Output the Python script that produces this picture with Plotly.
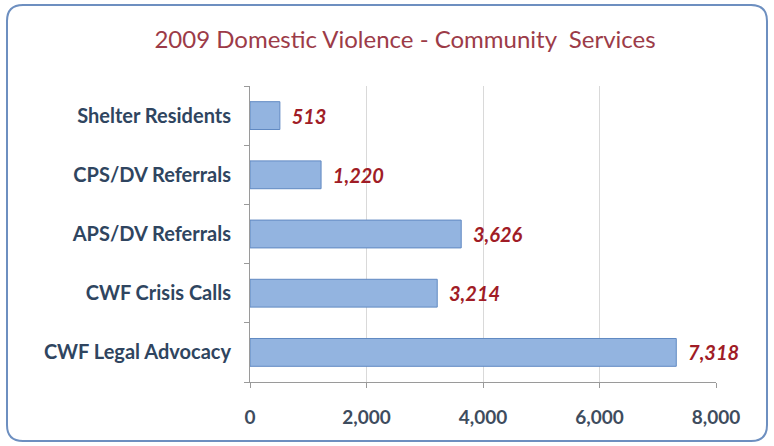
import plotly.graph_objects as go

# Service categories, listed top to bottom
categories = [
    "Shelter Residents",
    "CPS/DV Referrals",
    "APS/DV Referrals",
    "CWF Crisis Calls",
    "CWF Legal Advocacy",
]
counts = [513, 1220, 3626, 3214, 7318]
x_ticks = [0, 2000, 4000, 6000, 8000]
x_tick_labels = ["0", "2,000", "4,000", "6,000", "8,000"]
title_text = "2009 Domestic Violence - Community  Services"

W, H = 774, 446
ML, MR, MT, MB = 250, 58, 86, 64
PW, PH = W - ML - MR, H - MT - MB


def px_to_paper(px, py):
    return (px - ML) / PW, 1 - (py - MT) / PH


def rounded_rect_path(x0, y0, x1, y1, r):
    pts = [
        ("M", x0 + r, y0), ("L", x1 - r, y0), ("Q", x1, y0, x1, y0 + r),
        ("L", x1, y1 - r), ("Q", x1, y1, x1 - r, y1),
        ("L", x0 + r, y1), ("Q", x0, y1, x0, y1 - r),
        ("L", x0, y0 + r), ("Q", x0, y0, x0 + r, y0),
    ]
    out = []
    for p in pts:
        cmd = p[0]
        coords = p[1:]
        parts = []
        for i in range(0, len(coords), 2):
            u, v = px_to_paper(coords[i], coords[i + 1])
            parts.append(f"{u:.5f},{v:.5f}")
        out.append(cmd + " ".join(parts))
    return " ".join(out) + " Z"


# value labels sit a little to the right of each bar end
labels = ["\u00a0\u00a0" + f"{v:,}" for v in counts]

fig = go.Figure(
    go.Bar(
        x=counts,
        y=categories,
        orientation="h",
        marker=dict(color="#93b4e0", line=dict(color="#6089c2", width=1)),
        text=labels,
        textposition="outside",
        textfont=dict(family="Lato, sans-serif", size=20, color="#a01c26", weight="bold", style="italic"),
        cliponaxis=False,
        width=0.47,
        hoverinfo="skip",
    )
)

# Rounded frame around the chart
fig.add_shape(
    type="path",
    xref="paper",
    yref="paper",
    path=rounded_rect_path(7, 5, 767, 441, 16),
    line=dict(color="#6d8fc0", width=2),
    fillcolor="rgba(0,0,0,0)",
    layer="below",
)

fig.update_layout(
    width=W,
    height=H,
    margin=dict(l=ML, r=MR, t=MT, b=MB),
    paper_bgcolor="white",
    plot_bgcolor="white",
    showlegend=False,
    title=dict(
        text=title_text,
        x=405 / W,
        xref="container",
        xanchor="center",
        y=1 - 40 / H,
        yref="container",
        yanchor="middle",
        font=dict(family="Lato, sans-serif", size=24, color="#9c3b48"),
    ),
    xaxis=dict(
        range=[0, 8000],
        tickvals=x_ticks,
        ticktext=x_tick_labels,
        showgrid=True,
        gridcolor="#d9d9d9",
        gridwidth=1,
        zeroline=False,
        showline=True,
        linecolor="#9a9a9a",
        ticks="outside",
        ticklen=5,
        tickcolor="#9a9a9a",
        ticklabelstandoff=13,
        tickfont=dict(family="Lato, sans-serif", size=19, color="#3e4c5e", weight="bold"),
        fixedrange=True,
    ),
    yaxis=dict(
        categoryorder="array",
        categoryarray=categories[::-1],
        showline=True,
        linecolor="#9a9a9a",
        ticks="outside",
        tickson="boundaries",
        ticklen=5,
        tickcolor="#9a9a9a",
        ticklabelstandoff=14,
        tickfont=dict(family="Lato, sans-serif", size=20, color="#2f4560", weight="bold"),
        showgrid=False,
        fixedrange=True,
    ),
)

fig.write_html("out.html")
